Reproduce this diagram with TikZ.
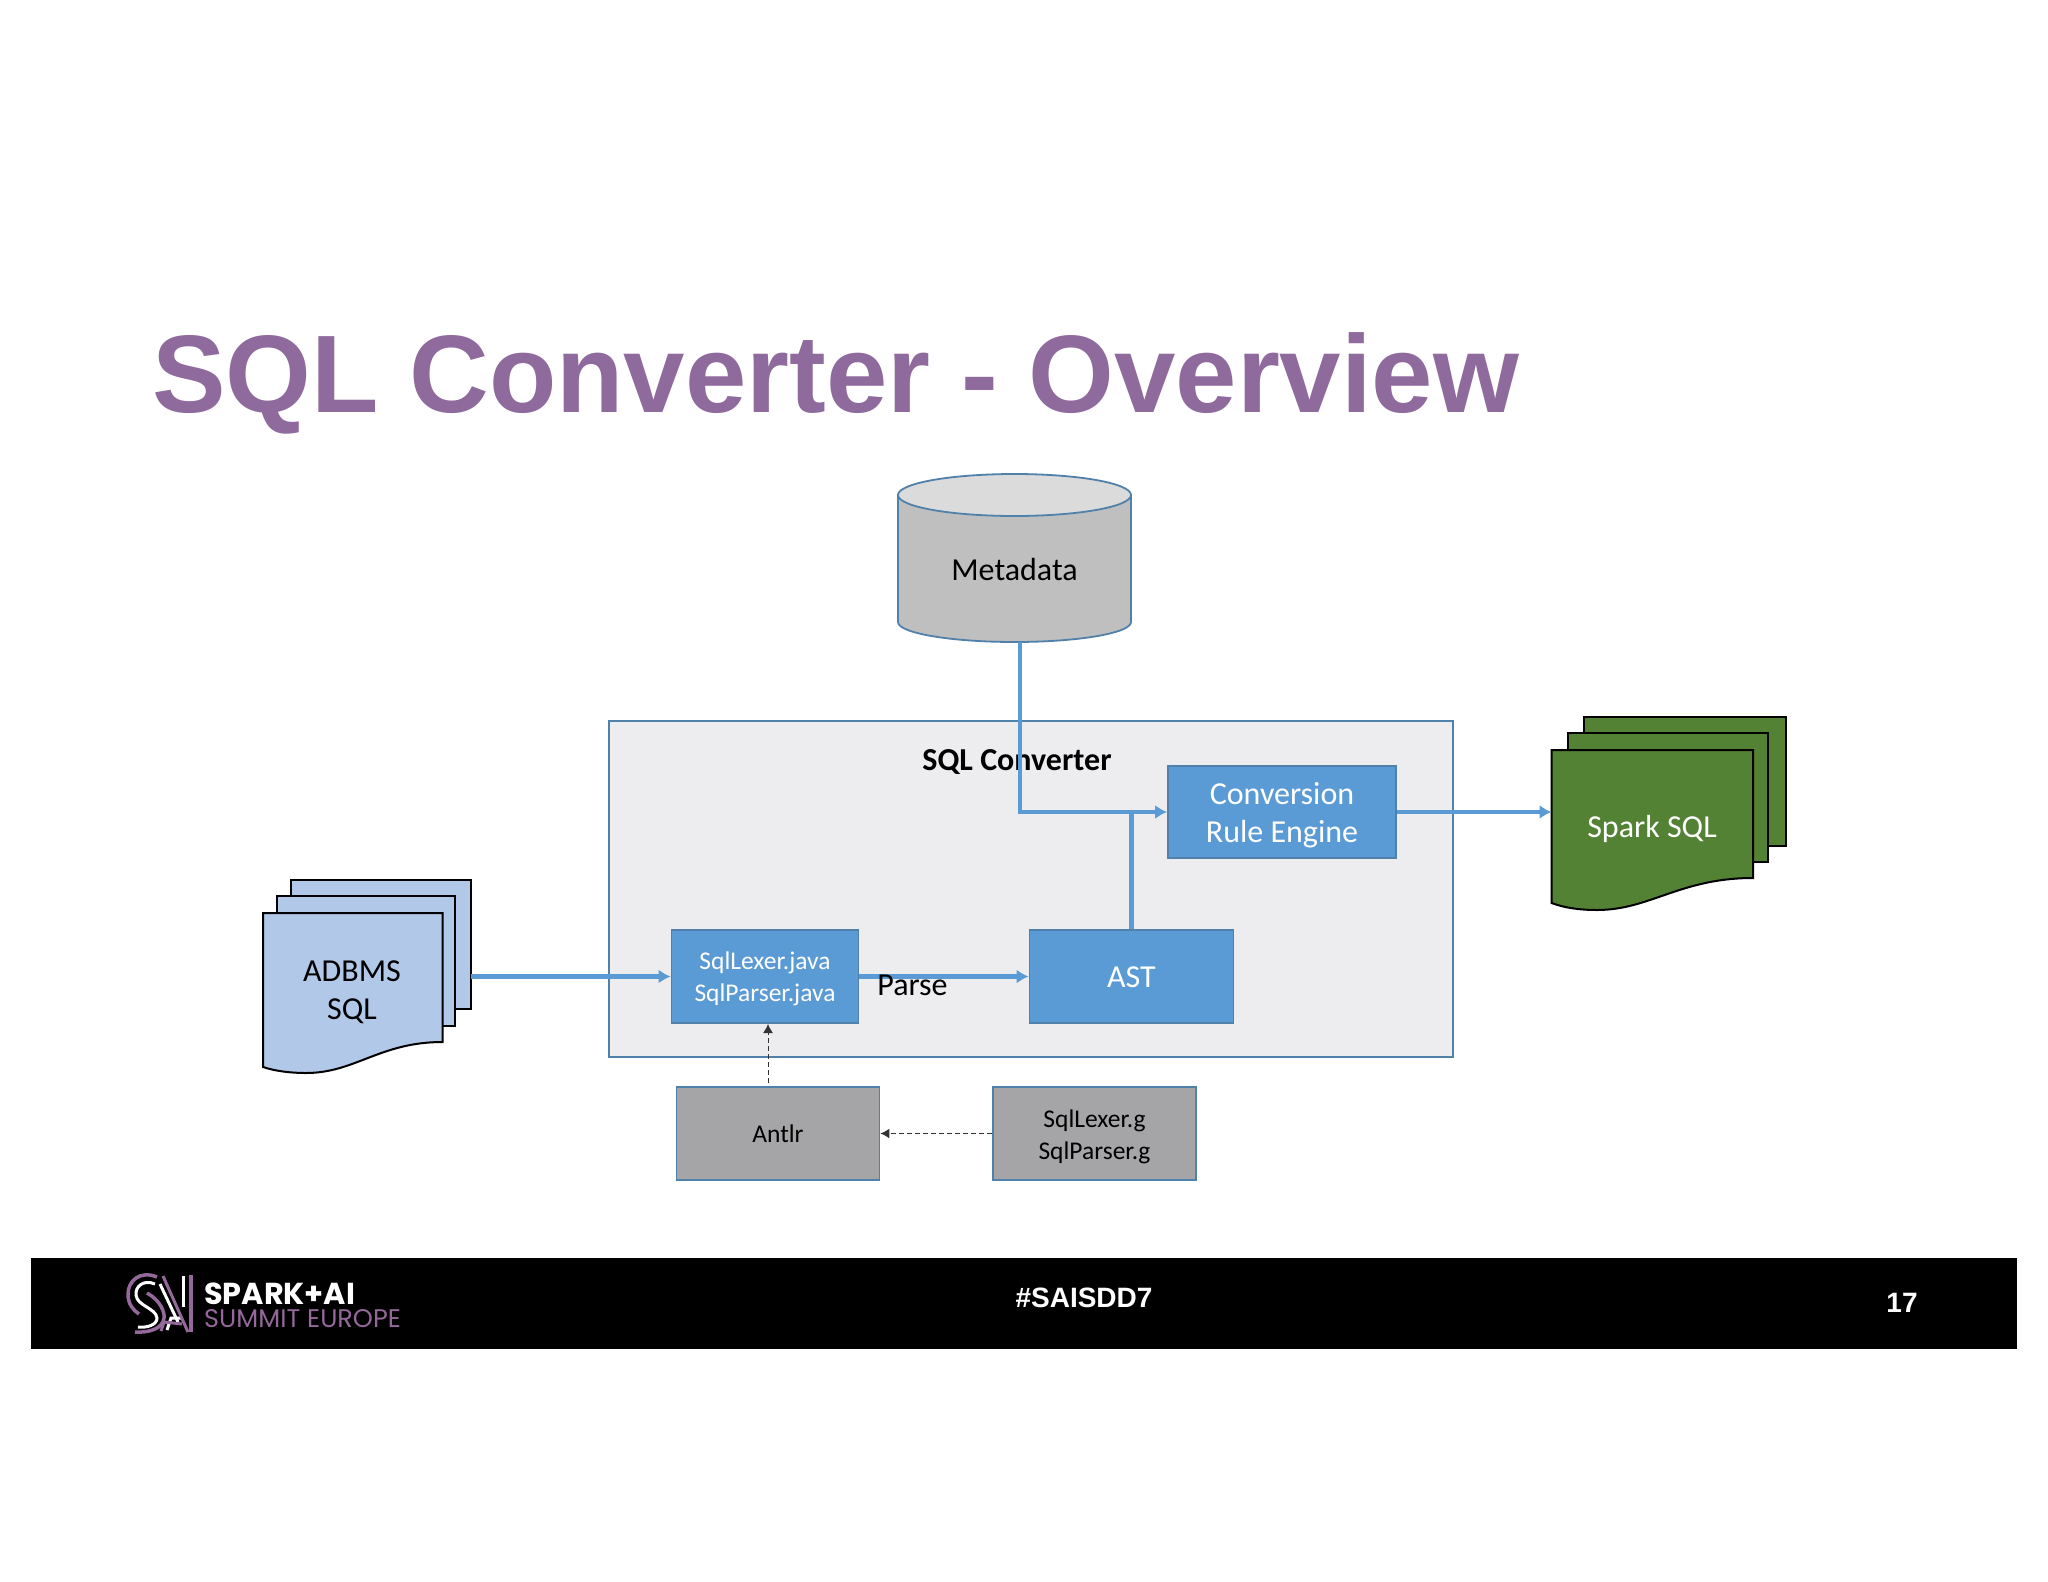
\documentclass[tikz,border=0pt]{standalone}
\usepackage{fontspec}
\setmainfont{Carlito}
\newfontfamily\arialfont{Liberation Sans}
\newfontfamily\brandfont{Poppins}
\usetikzlibrary{arrows.meta}
\definecolor{titleCol}{HTML}{8F6A9C}
\definecolor{edgeCol}{HTML}{4F81AB}
\definecolor{flowCol}{HTML}{5B9BD5}
\definecolor{panelCol}{HTML}{EDEDEF}
\definecolor{greyCol}{HTML}{A5A5A7}
\definecolor{adbmsCol}{HTML}{B2C8E8}
\definecolor{sparkCol}{HTML}{548235}
\definecolor{brandCol}{HTML}{94689A}
\newcommand{\bigfont}{\fontsize{32}{38}\selectfont}
\newcommand{\smallfont}{\fontsize{25.5}{32}\selectfont}
\tikzset{
  bluebox/.style={draw=edgeCol, line width=1.8pt, fill=flowCol, text=white, inner sep=0pt, align=center},
  greybox/.style={draw=edgeCol, line width=1.8pt, fill=greyCol, text=black, inner sep=0pt, align=center},
  sheet/.style={draw=black, line width=2pt},
  flow/.style={draw=flowCol, line width=4.5pt},
  flowarrow/.style={flow, -{Latex[length=12pt,width=14pt]}},
  dashflow/.style={draw=black!80, line width=1.4pt, dash pattern=on 5pt off 3pt, -{Latex[length=9pt,width=10pt]}}
}

\begin{document}
\begin{tikzpicture}[x=1pt,y=-1pt]
\useasboundingbox (0,0) rectangle (2048,1582);
%--------------------------------------------------
\fill [color=white](0,0) rectangle (2048,1582);

% title
\node [anchor=base west, inner sep=0pt, text=titleCol] (title) at (152,412) {\arialfont\bfseries\fontsize{110.3}{120}\selectfont SQL Converter - Overview};

% metadata cylinder
\filldraw [draw=edgeCol, line width=1.8pt, fill=black!25](898,495) -- (898,622) .. controls (898,633) and (950,642) .. (1014.5,642) .. controls (1079,642) and (1131,633) .. (1131,622) -- (1131,495) -- cycle;
\filldraw [draw=edgeCol, line width=1.8pt, fill=black!14](1014.5,495) ellipse (116.5 and 21);
\node [inner sep=0pt, font=\bigfont] (metadata) at (1014.5,570) {Metadata};
\coordinate (metadataOut) at (1020,642);

% converter panel
\filldraw [draw=edgeCol, line width=1.8pt, fill=panelCol](609,721) rectangle (1453,1057);
\node [inner sep=0pt, font=\bigfont\bfseries] (converter) at (1017,762.5) {SQL Converter};

% ADBMS sheets
\filldraw [sheet, fill=adbmsCol](291,880) rectangle (471,1009);
\filldraw [sheet, fill=adbmsCol](277,896) rectangle (455,1026);
\filldraw [sheet, fill=adbmsCol](263,913) -- (442.5,913) -- (442.5,1042) .. controls (380,1042) and (355,1073) .. (306,1073) .. controls (290,1073) and (275,1071) .. (263,1067) -- cycle;
\node [inner sep=0pt, align=center, font=\bigfont] (adbms) at (352,992.5) {ADBMS\\SQL};
\coordinate (adbmsOut) at (471,976.5);

% Spark SQL sheets
\filldraw [sheet, fill=sparkCol](1584,717) rectangle (1786,846);
\filldraw [sheet, fill=sparkCol](1568,733) rectangle (1768,862);
\filldraw [sheet, fill=sparkCol](1551.5,750) -- (1753,750) -- (1753,878) .. controls (1680,878) and (1650,910) .. (1597,910) .. controls (1580,910) and (1565,908) .. (1551.5,903) -- cycle;
\node [inner sep=0pt, text=white, font=\bigfont] (spark) at (1652,829) {Spark SQL};
\coordinate (sparkIn) at (1551.5,812);

% boxes
\node [bluebox, font=\smallfont, minimum width=187pt, minimum height=93pt] (lexer) at (765,976.5) {\rule{0pt}{22pt}SqlLexer.java\\SqlParser.java};
\node [bluebox, font=\bigfont, minimum width=204pt, minimum height=93pt] (ast) at (1131.5,976.5) {\rule{0pt}{23pt}AST};
\node [bluebox, font=\bigfont, minimum width=228pt, minimum height=92pt] (rule) at (1282,812) {\rule{0pt}{29pt}Conversion\\Rule Engine};
\node [greybox, font=\smallfont, minimum width=203pt, minimum height=93pt] (antlr) at (778,1133.5) {Antlr};
\node [greybox, font=\smallfont, minimum width=203pt, minimum height=93pt] (lexerG) at (1094.5,1133.5) {\rule{0pt}{24pt}SqlLexer.g\\SqlParser.g};
\coordinate (antlrOut) at (768,1083);
\coordinate (lexerIn) at (768,1024);

% connectors
\draw [flowarrow](adbmsOut) -- (lexer.west);
\draw [flowarrow](lexer.east) -- (ast.west);
\draw [flowarrow](metadataOut) |- (rule.west);
\draw [flow](ast.north) -- (ast.north |- rule.west);
\draw [flowarrow](rule.east) -- (sparkIn);
\draw [dashflow, line width=1pt](antlrOut) -- (lexerIn);
\draw [dashflow](lexerG.west) -- (antlr.east);
\node [inner sep=0pt, font=\bigfont] (parse) at (912.5,985) {Parse};

% footer bar
\fill [color=black](31,1258) rectangle (2017,1349);
\node [inner sep=0pt, text=white] (hashtag) at (1084,1298) {\arialfont\bfseries\fontsize{28}{32}\selectfont \#SAISDD7};
\node [inner sep=0pt, text=white] (pagenum) at (1902,1303) {\arialfont\bfseries\fontsize{28}{32}\selectfont 17};
\node [anchor=base west, inner sep=0pt, text=white] (brandTop) at (204,1304.5) {\brandfont\bfseries\fontsize{30.3}{32}\selectfont SPARK+AI};
\node [anchor=base west, inner sep=0pt, text=brandCol] (brandBottom) at (204,1327.5) {\brandfont\fontsize{25.5}{28}\selectfont SUMMIT EUROPE};

% logo
\draw [brandCol, line width=3.5pt](157,1277) .. controls (140,1270) and (128,1281) .. (128,1294) .. controls (128,1304) and (133,1310) .. (139,1314);
\draw [white, line width=3pt](155,1284) .. controls (143,1279) and (135,1287) .. (136,1295) .. controls (137,1306) and (156,1308) .. (157,1318) .. controls (157,1325) and (147,1328) .. (138,1327);
\draw [brandCol, line width=3.5pt](147,1293) .. controls (160,1300) and (165,1312) .. (164,1318) .. controls (163,1328) and (150,1333) .. (135,1332);
\draw [white, line width=3pt](160,1284) -- (178,1322);
\draw [white, line width=3pt](167,1330) -- (171,1318) -- (181,1318);
\draw [brandCol, line width=3pt](163,1276) -- (188,1332);
\draw [brandCol, line width=3pt](161,1331) -- (164,1322) -- (182,1324);
\draw [white, line width=3pt](183,1276) -- (183,1307);
\draw [brandCol, line width=3.5pt](191,1275) -- (191,1332);
%--------------------------------------------------
\end{tikzpicture}
\end{document}
